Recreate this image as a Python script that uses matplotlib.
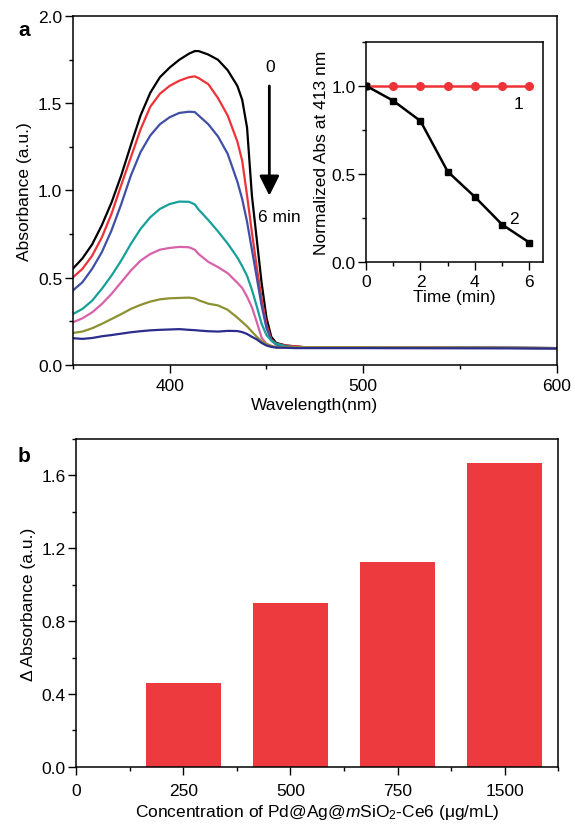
import numpy as np
import matplotlib
matplotlib.use("Agg")
import matplotlib.pyplot as plt
from matplotlib.ticker import MultipleLocator, FormatStrFormatter

plt.rcParams['font.family'] = ['Liberation Sans', 'DejaVu Sans']
plt.rcParams['font.size'] = 12.5
plt.rcParams['mathtext.fontset'] = 'custom'
plt.rcParams['mathtext.rm'] = 'Liberation Sans'
plt.rcParams['mathtext.it'] = 'Liberation Sans:italic'

# UV-vis spectra (panel a)
wavelength = [350, 355, 360, 365, 370, 375, 380, 385, 390, 395, 400, 405, 410, 413,
              415, 420, 425, 430, 435, 437.5, 440, 442.5, 445, 447.5, 450, 452.5, 455,
              460, 465, 470, 480, 500, 550, 600]
abs_0min = [0.55, 0.61, 0.69, 0.80, 0.93, 1.085, 1.26, 1.43, 1.56, 1.65, 1.705, 1.75, 1.785, 1.80,
            1.80, 1.78, 1.75, 1.69, 1.60, 1.52, 1.36, 0.97, 0.72, 0.47, 0.27, 0.16, 0.125,
            0.11, 0.105, 0.10, 0.10, 0.10, 0.098, 0.095]
abs_1min = [0.50, 0.55, 0.625, 0.73, 0.865, 1.03, 1.19, 1.35, 1.48, 1.555, 1.60, 1.63, 1.65, 1.655,
            1.645, 1.61, 1.53, 1.43, 1.28, 1.17, 0.97, 0.76, 0.56, 0.38, 0.23, 0.145, 0.12,
            0.11, 0.105, 0.10, 0.10, 0.10, 0.098, 0.095]
abs_2min = [0.425, 0.473, 0.55, 0.645, 0.77, 0.92, 1.085, 1.22, 1.315, 1.38, 1.42, 1.445, 1.452, 1.45,
            1.43, 1.38, 1.31, 1.21, 1.05, 0.95, 0.82, 0.66, 0.50, 0.34, 0.21, 0.14, 0.115,
            0.105, 0.10, 0.10, 0.10, 0.10, 0.098, 0.095]
abs_3min = [0.29, 0.32, 0.367, 0.435, 0.511, 0.597, 0.693, 0.779, 0.846, 0.894, 0.922, 0.936, 0.935, 0.92,
            0.89, 0.83, 0.765, 0.695, 0.615, 0.565, 0.51, 0.43, 0.335, 0.235, 0.17, 0.138, 0.12,
            0.105, 0.10, 0.10, 0.10, 0.10, 0.098, 0.095]
abs_4min = [0.243, 0.266, 0.30, 0.348, 0.406, 0.473, 0.54, 0.597, 0.635, 0.66, 0.67, 0.676, 0.674, 0.66,
            0.635, 0.59, 0.56, 0.525, 0.47, 0.44, 0.39, 0.33, 0.245, 0.155, 0.12, 0.108, 0.10,
            0.10, 0.10, 0.10, 0.10, 0.10, 0.098, 0.095]
abs_5min = [0.182, 0.19, 0.209, 0.234, 0.262, 0.29, 0.32, 0.343, 0.362, 0.375, 0.381, 0.383, 0.385, 0.38,
            0.37, 0.35, 0.34, 0.315, 0.27, 0.245, 0.22, 0.19, 0.16, 0.135, 0.118, 0.107, 0.10,
            0.10, 0.10, 0.10, 0.10, 0.10, 0.098, 0.095]
abs_6min = [0.152, 0.148, 0.153, 0.163, 0.17, 0.178, 0.186, 0.192, 0.197, 0.20, 0.202, 0.204, 0.20, 0.198,
            0.196, 0.192, 0.19, 0.194, 0.193, 0.187, 0.176, 0.16, 0.145, 0.125, 0.11, 0.102, 0.098,
            0.097, 0.095, 0.095, 0.095, 0.095, 0.094, 0.093]
spectra = [abs_0min, abs_1min, abs_2min, abs_3min, abs_4min, abs_5min, abs_6min]
spectra_colors = ['#000000', '#ee3338', '#3f4fa6', '#17a09a', '#d862aa', '#8c9232', '#2b2d8c']

# inset: normalized absorbance at 413 nm
time_min = [0, 1, 2, 3, 4, 5, 6]
norm_ctrl = [1.0, 1.0, 1.0, 1.0, 1.0, 1.0, 1.0]
norm_sample = [1.0, 0.915, 0.80, 0.513, 0.369, 0.212, 0.11]

# panel b
conc_labels = ['250', '500', '750', '1500']
delta_abs = [0.46, 0.90, 1.125, 1.67]

fig = plt.figure(figsize=(5.74, 8.29), dpi=100)

def style_ticks(ax):
    ax.tick_params(which='major', direction='out', length=5.5, width=1.0, top=False, right=False, pad=2)
    ax.tick_params(which='minor', direction='out', length=3, width=1.0, top=False, right=False)
    for s in ax.spines.values():
        s.set_linewidth(1.1)

# ---- panel a ----
ax1 = fig.add_axes([0.1267, 0.5589, 0.8437, 0.4203])
for ys, c in zip(spectra, spectra_colors):
    ax1.plot(wavelength, ys, color=c, lw=1.6)
ax1.set_xlim(350, 600)
ax1.set_ylim(0, 2.0)
ax1.set_xticks([400, 500, 600])
ax1.xaxis.set_minor_locator(MultipleLocator(50))
ax1.yaxis.set_major_locator(MultipleLocator(0.5))
ax1.yaxis.set_minor_locator(MultipleLocator(0.25))
ax1.yaxis.set_major_formatter(FormatStrFormatter('%.1f'))
style_ticks(ax1)
ax1.tick_params(axis='x', which='major', pad=4)
ax1.set_xlabel('Wavelength(nm)', labelpad=3)
ax1.set_ylabel('Absorbance (a.u.)', labelpad=4)

ax1.annotate('', xy=(451.5, 0.97), xytext=(451.5, 1.60),
             arrowprops=dict(arrowstyle='-|>,head_width=0.3,head_length=0.6',
                             mutation_scale=20, lw=2, color='black', shrinkA=0, shrinkB=0))
ax1.text(451.7, 1.71, '0', ha='center', va='center')
ax1.text(445.5, 0.85, '6 min', ha='left', va='center')

# inset
ins = fig.add_axes([0.6376, 0.6828, 0.3084, 0.2657])
ins.plot(time_min, norm_ctrl, color='#ee3338', lw=1.8, marker='o', ms=5.5)
ins.plot(time_min, norm_sample, color='black', lw=1.8, marker='s', ms=5)
ins.set_xlim(0, 6.5)
ins.set_ylim(0, 1.25)
ins.set_xticks([0, 2, 4, 6])
ins.xaxis.set_minor_locator(MultipleLocator(1))
ins.set_yticks([0.0, 0.5, 1.0])
ins.yaxis.set_minor_locator(MultipleLocator(0.25))
ins.yaxis.set_major_formatter(FormatStrFormatter('%.1f'))
style_ticks(ins)
ins.tick_params(axis='x', which='major', pad=3)
ins.set_xlabel('Time (min)', labelpad=0)
ins.set_ylabel('Normalized Abs at 413 nm', labelpad=2)
ins.text(5.6, 0.90, '1', ha='center', va='center')
ins.text(5.42, 0.245, '2', ha='center', va='center')

fig.text(18 / 574, 1 - 30 / 829, 'a', fontsize=15, fontweight='bold', ha='left', va='center')

# ---- panel b ----
ax2 = fig.add_axes([0.1324, 0.0739, 0.8402, 0.3953])
xpos = np.arange(1, len(delta_abs) + 1)
ax2.bar(xpos, delta_abs, width=0.7, color='#ed3a3e')
ax2.set_xlim(0, 4.5)
ax2.set_ylim(0, 1.8)
ax2.set_xticks([0] + list(xpos))
ax2.set_xticklabels(['0'] + conc_labels)
ax2.xaxis.set_minor_locator(MultipleLocator(0.5))
ax2.yaxis.set_major_locator(MultipleLocator(0.4))
ax2.yaxis.set_minor_locator(MultipleLocator(0.2))
ax2.yaxis.set_major_formatter(FormatStrFormatter('%.1f'))
style_ticks(ax2)
ax2.tick_params(axis='x', which='major', pad=6)
ax2.set_xlabel('Concentration of Pd@Ag@$\\mathit{m}$SiO$_2$-Ce6 (\u03bcg/mL)', labelpad=3)
ax2.set_ylabel('\u0394 Absorbance (a.u.)', labelpad=4)

fig.text(18 / 574, 1 - 457 / 829, 'b', fontsize=15, fontweight='bold', ha='left', va='center')

fig.savefig('out.png', dpi=100)
